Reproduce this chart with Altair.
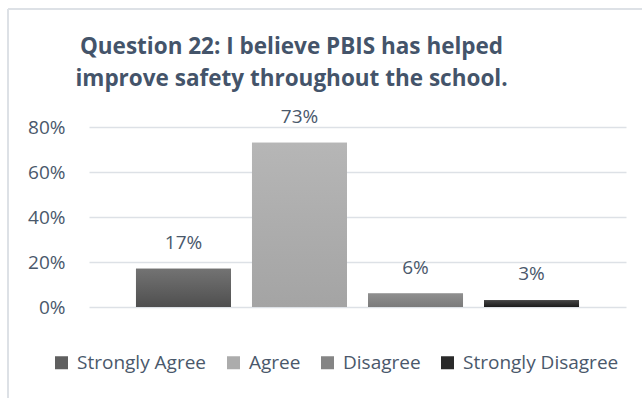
import altair as alt
import pandas as pd

categories = ["Strongly Agree", "Agree", "Disagree", "Strongly Disagree"]
values = [0.17, 0.73, 0.06, 0.03]
value_labels = ["17%", "73%", "6%", "3%"]
y_ticks = [0, 0.2, 0.4, 0.6, 0.8]
title_lines = ["Question 22: I believe PBIS has helped",
               "improve safety throughout the school."]

flat_colors = ["#5f5f5f", "#acacac", "#858585", "#2a2a2a"]
grad_colors = [("#737373", "#4f4f4f"), ("#b6b6b6", "#a4a4a4"),
               ("#8f8f8f", "#7b7b7b"), ("#444444", "#1c1c1c")]

df = pd.DataFrame({"cat": categories, "val": values, "lab": value_labels})

FONT = "Open Sans"
TXT = "#4a586b"

xenc = alt.X("cat:N", sort=categories, axis=None,
             scale=alt.Scale(domain=categories, paddingInner=0.181, paddingOuter=0.405))
yenc = alt.Y("val:Q", axis=alt.Axis(values=y_ticks, format=".0%", domain=False, ticks=False,
                                    labelPadding=24, labelFontSize=19, labelFont=FONT,
                                    labelColor=TXT, gridColor="#dde1e6", gridWidth=1.5, title=None),
             scale=alt.Scale(domain=[0, 0.8], nice=False))

base = alt.Chart(df).mark_bar().encode(
    x=xenc, y=yenc,
    color=alt.Color("cat:N", sort=categories,
                    scale=alt.Scale(domain=categories, range=flat_colors),
                    legend=alt.Legend(orient="none", direction="horizontal", legendX=-37, legendY=226,
                                      title=None, symbolType="square", symbolSize=169,
                                      symbolStrokeWidth=0, labelFontSize=19, labelFont=FONT,
                                      labelColor=TXT, labelOffset=6, columnPadding=17,
                                      symbolOpacity=1))
)

layers = [base]
for c, (top, bot) in zip(categories, grad_colors):
    layers.append(
        alt.Chart(df).transform_filter(alt.datum.cat == c).mark_bar(
            color=alt.LinearGradient(gradient="linear",
                                     stops=[alt.GradientStop(color=top, offset=0),
                                            alt.GradientStop(color=bot, offset=1)],
                                     x1=0, x2=0, y1=0, y2=1)
        ).encode(x=xenc, y=yenc)
    )

labels = alt.Chart(df).mark_text(dy=-26, baseline="middle", fontSize=19, font=FONT, color=TXT).encode(
    x=xenc, y=yenc, text="lab:N")
layers.append(labels)

frame = alt.Chart(df).mark_rule(color="#dde1e6", strokeWidth=2).encode(
    x=alt.value(-81), x2=alt.value(560), y=alt.value(-118))
frame2 = alt.Chart(df).mark_rule(color="#dde1e6", strokeWidth=2).encode(
    x=alt.value(-81), y=alt.value(-118), y2=alt.value(280))

chart = alt.layer(frame, frame2, *layers).properties(
    width=537, height=180,
    padding={"left": 89, "top": 127, "right": 16, "bottom": 91},
    autosize=alt.AutoSizeParams(type="none"),
    title=alt.TitleParams(text=title_lines, fontSize=22.5, fontWeight="bold", font=FONT,
                          color="#44546A", anchor="middle", dx=-66, lineHeight=32, offset=0, dy=82),
).configure(background="white", view=alt.ViewConfig(stroke=None))

chart.save("out.html", embed_options={"renderer": "svg", "actions": False})
